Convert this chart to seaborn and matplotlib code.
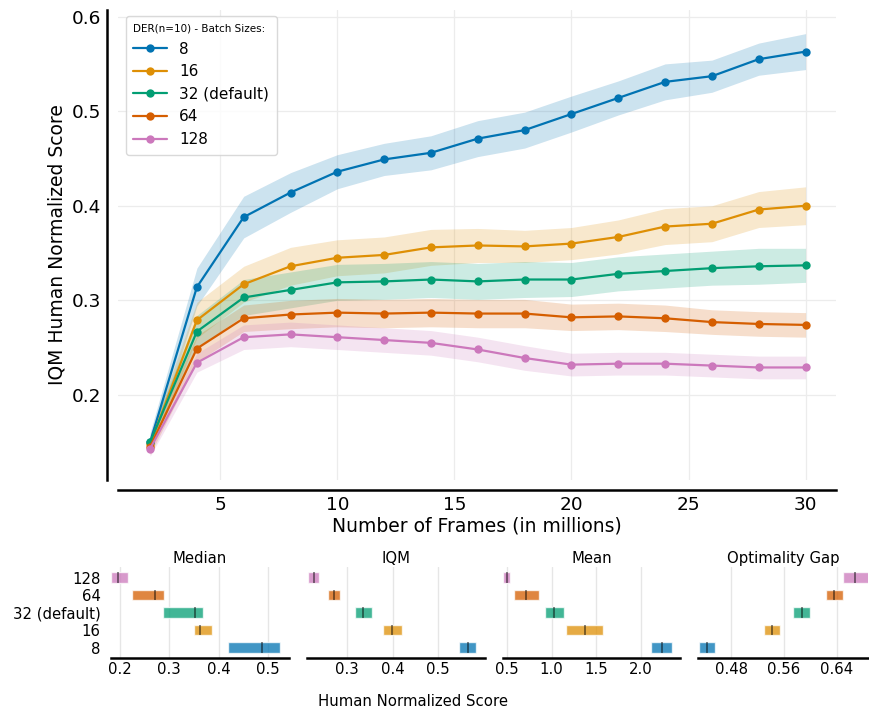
import numpy as np
import pandas as pd
import matplotlib
matplotlib.use("Agg")
import matplotlib.pyplot as plt
import seaborn as sns

# ---------------- data ----------------
frames = [2, 4, 6, 8, 10, 12, 14, 16, 18, 20, 22, 24, 26, 28, 30]
batch_labels = ["8", "16", "32 (default)", "64", "128"]

iqm_8 = [0.150, 0.314, 0.388, 0.414, 0.436, 0.449, 0.456, 0.471, 0.480, 0.497, 0.514, 0.531, 0.537, 0.555, 0.563]
iqm_16 = [0.148, 0.279, 0.317, 0.336, 0.345, 0.348, 0.356, 0.358, 0.357, 0.360, 0.367, 0.378, 0.381, 0.396, 0.400]
iqm_32 = [0.150, 0.267, 0.303, 0.311, 0.319, 0.320, 0.322, 0.320, 0.322, 0.322, 0.328, 0.331, 0.334, 0.336, 0.337]
iqm_64 = [0.145, 0.249, 0.281, 0.285, 0.287, 0.286, 0.287, 0.286, 0.286, 0.282, 0.283, 0.281, 0.277, 0.275, 0.274]
iqm_128 = [0.143, 0.234, 0.261, 0.264, 0.261, 0.258, 0.255, 0.248, 0.239, 0.232, 0.233, 0.233, 0.231, 0.229, 0.229]

# half width of the confidence band
ci_8 = [0.010, 0.020, 0.022, 0.021, 0.018, 0.017, 0.018, 0.019, 0.019, 0.019, 0.018, 0.019, 0.017, 0.017, 0.019]
ci_16 = [0.008, 0.019, 0.019, 0.020, 0.019, 0.019, 0.019, 0.018, 0.017, 0.017, 0.018, 0.019, 0.019, 0.019, 0.020]
ci_32 = [0.008, 0.017, 0.019, 0.019, 0.019, 0.019, 0.019, 0.019, 0.019, 0.018, 0.018, 0.018, 0.018, 0.019, 0.018]
ci_64 = [0.008, 0.014, 0.014, 0.015, 0.015, 0.015, 0.015, 0.015, 0.015, 0.014, 0.014, 0.014, 0.013, 0.013, 0.013]
ci_128 = [0.008, 0.010, 0.013, 0.013, 0.013, 0.013, 0.013, 0.013, 0.013, 0.012, 0.012, 0.012, 0.012, 0.012, 0.012]

# interval estimates at 30M frames, order: 8, 16, 32, 64, 128
metric_names = ["Median", "IQM", "Mean", "Optimality Gap"]
median_pt = [0.487, 0.361, 0.352, 0.271, 0.196]
median_lo = [0.418, 0.349, 0.287, 0.225, 0.182]
median_hi = [0.523, 0.386, 0.369, 0.289, 0.216]
iqmf_pt = [0.565, 0.399, 0.336, 0.271, 0.228]
iqmf_lo = [0.546, 0.378, 0.318, 0.258, 0.215]
iqmf_hi = [0.583, 0.420, 0.355, 0.285, 0.239]
mean_pt = [2.24, 1.38, 1.03, 0.71, 0.50]
mean_lo = [2.12, 1.16, 0.93, 0.58, 0.455]
mean_hi = [2.35, 1.58, 1.14, 0.86, 0.53]
gap_pt = [0.443, 0.542, 0.587, 0.636, 0.667]
gap_lo = [0.431, 0.530, 0.574, 0.623, 0.649]
gap_hi = [0.456, 0.554, 0.600, 0.649, 0.690]

metric_ticks = [[0.2, 0.3, 0.4, 0.5], [0.3, 0.4, 0.5], [0.5, 1.0, 1.5, 2.0], [0.48, 0.56, 0.64]]
metric_ticklabels = [["0.2", "0.3", "0.4", "0.5"], ["0.3", "0.4", "0.5"],
                     ["0.5", "1.0", "1.5", "2.0"], ["0.48", "0.56", "0.64"]]
metric_xlim = [(0.182, 0.542), (0.212, 0.603), (0.455, 2.44), (0.430, 0.687)]

# ---------------- style ----------------
sns.set_theme(style="white")
plt.rcParams['font.family'] = ['DejaVu Sans']
plt.rcParams['text.color'] = 'black'
plt.rcParams['axes.labelcolor'] = 'black'
plt.rcParams['xtick.color'] = 'black'
plt.rcParams['ytick.color'] = 'black'
colors = sns.color_palette("colorblind")
palette = [colors[0], colors[1], colors[2], colors[3], colors[4]]

W, H = 869, 713
fig = plt.figure(figsize=(W / 100, H / 100), dpi=100)


def box(x0, y0, x1, y1):
    return [x0 / W, 1 - y1 / H, (x1 - x0) / W, (y1 - y0) / H]


# ---------------- main panel ----------------
ax = fig.add_axes(box(118, 10, 836, 480))
all_iqm = [iqm_8, iqm_16, iqm_32, iqm_64, iqm_128]
all_ci = [ci_8, ci_16, ci_32, ci_64, ci_128]
df = pd.DataFrame({
    "frames": frames * 5,
    "iqm": np.concatenate(all_iqm),
    "batch": np.repeat(batch_labels, len(frames)),
})
sns.lineplot(data=df, x="frames", y="iqm", hue="batch", hue_order=batch_labels,
             palette=palette, marker="o", markersize=6, markeredgewidth=0,
             linewidth=1.6, errorbar=None, ax=ax)
for vals, ci, c in zip(all_iqm, all_ci, palette):
    v = np.array(vals)
    e = np.array(ci)
    ax.fill_between(frames, v - e, v + e, color=c, alpha=0.2, linewidth=0)

ax.set_xlim(0.63, 31.3)
ax.set_ylim(0.11, 0.607)
ax.set_xticks([5, 10, 15, 20, 25, 30])
ax.set_yticks([0.2, 0.3, 0.4, 0.5, 0.6])
ax.grid(True, color="#ececec", linewidth=0.9)
ax.tick_params(axis="both", labelsize=13.3, length=0, pad=4)
ax.set_xlabel("Number of Frames (in millions)", fontsize=13.5, labelpad=2)
ax.set_ylabel("IQM Human Normalized Score", fontsize=13.5, labelpad=4)
for s in ["top", "right"]:
    ax.spines[s].set_visible(False)
for s in ["left", "bottom"]:
    ax.spines[s].set_color("black")
    ax.spines[s].set_linewidth(1.8)
ax.spines["left"].set_position(("outward", 8))
ax.spines["bottom"].set_position(("outward", 7.5))

handles, labels = ax.get_legend_handles_labels()
leg = ax.legend(handles, labels, title="DER(n=10) - Batch Sizes:", loc="upper left",
                bbox_to_anchor=(0.0, 1.003), fontsize=11, title_fontsize=7.5,
                frameon=True, borderpad=0.5, labelspacing=0.5, handlelength=2.2)
leg.get_frame().set_edgecolor("#d0d0d0")
leg._legend_box.align = "left"

# ---------------- interval estimates ----------------
points = [median_pt, iqmf_pt, mean_pt, gap_pt]
lows = [median_lo, iqmf_lo, mean_lo, gap_lo]
highs = [median_hi, iqmf_hi, mean_hi, gap_hi]
xs = [(111, 289), (307, 485), (503, 680), (698, 868)]
ypos = np.arange(5)

for i, name in enumerate(metric_names):
    bax = fig.add_axes(box(xs[i][0], 567, xs[i][1], 658))
    lo = np.array(lows[i])
    hi = np.array(highs[i])
    bax.barh(ypos, hi - lo, left=lo, height=0.62, color=palette, alpha=0.75)
    bax.vlines(points[i], ypos - 0.3, ypos + 0.3, color="black", alpha=0.5, linewidth=1.3)
    bax.set_xlim(*metric_xlim[i])
    bax.set_ylim(-0.6, 4.6)
    bax.set_xticks(metric_ticks[i])
    bax.set_xticklabels(metric_ticklabels[i])
    bax.set_title(name, fontsize=10.7, pad=3)
    bax.grid(True, axis="x", color="#e6e6e6", linewidth=1)
    bax.tick_params(axis="x", labelsize=10.7, length=0, pad=3)
    if i == 0:
        bax.set_yticks(ypos)
        bax.set_yticklabels(batch_labels)
        bax.tick_params(axis="y", labelsize=10.7, length=0, pad=7.5)
    else:
        bax.set_yticks([])
    for s in ["top", "right", "left"]:
        bax.spines[s].set_visible(False)
    bax.spines["bottom"].set_color("black")
    bax.spines["bottom"].set_linewidth(1.8)

fig.text(413 / W, 1 - 701 / H, "Human Normalized Score", ha="center", va="center", fontsize=10.7)

fig.savefig("out.png", dpi=100)
